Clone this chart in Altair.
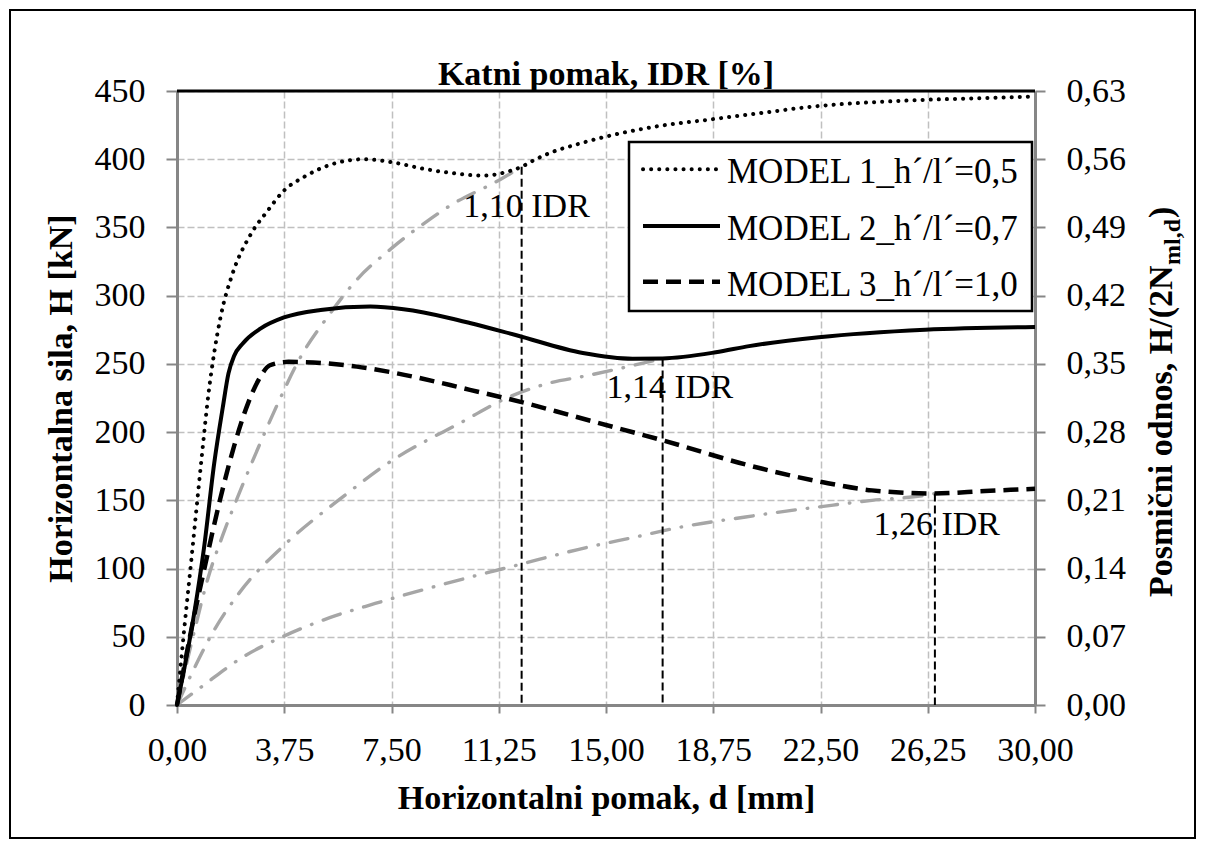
import altair as alt
import pandas as pd

# ---------------- data ----------------
m1_d = [0, 0.25, 0.49, 0.72, 0.9, 1.1, 1.3, 1.53, 1.94, 2.58, 3.16, 3.74, 4.44, 5.37, 6.53, 7.46,
        8.62, 9.55, 10.71, 11.58, 12.05, 12.5, 13.03, 14.0, 14.89, 16.75, 18.6, 20.0, 22.44, 25.2,
        28.48, 30.0]
m1_h = [0, 55, 104, 152, 189, 228, 258, 285, 316, 345, 362, 377, 387, 396, 400, 398,
        393, 390, 388, 391, 394.5, 399.5, 404.5, 411, 416, 424, 429, 432.7, 439, 442.7,
        445, 446]

m2_d = [0, 0.6, 0.95, 1.3, 1.6, 1.8, 2.0, 2.3, 2.93, 3.74, 5.02, 6.76, 7.92, 9.55, 10.24,
        11.87, 14.19, 15.93, 16.98, 18.84, 20.0, 22.44, 26.16, 30.0]
m2_h = [0, 67, 116, 177, 218, 243, 256, 265, 276, 284, 289.5, 292, 290, 283.5, 280,
        271, 258, 253.8, 254, 258.5, 263, 269.5, 275, 277]

m3_d = [0, 0.5, 1.0, 1.5, 2.0, 2.5, 2.9, 3.25, 3.9, 5.13, 6.29, 7.46, 9.55, 10.24,
        12.05, 13.73, 15.3, 16.98, 20.0, 22.55, 24.3, 26.45, 28.25, 30.0]
m3_h = [0, 55, 104, 150, 190, 222, 240, 249, 251.5, 250.5, 248, 244, 234.5, 231,
        222, 212.5, 203.5, 194, 175.6, 163.4, 157.3, 155, 156.8, 158.5]

gA_d = [0, 0.64, 1.07, 1.61, 2.23, 2.87, 3.57, 4.32, 5.25, 6.3, 7.52, 8.91, 9.55, 11.29, 12.05]
gA_h = [0, 57, 92, 125, 158, 190, 223, 255, 284, 312, 335, 357, 366, 385, 394.5]

gB_d = [0, 0.49, 1.22, 2.17, 3.74, 5.89, 7.22, 10.19, 11.23, 13.03, 14.25, 16.98]
gB_h = [0, 22, 52, 82, 117, 154, 175, 210, 222, 236, 241, 254]

gC_d = [0, 0.9, 2.26, 3.74, 5.34, 6.93, 10.19, 11.87, 14.31, 16.0, 17.62, 19.88, 20.99, 22.6,
        24.3, 26.16, 26.5]
gC_h = [0, 14, 34.6, 50.5, 64, 74.4, 93.4, 102.4, 115.4, 123, 130.4, 137.8, 141.2, 145.6,
        150, 153.7, 155]

drift_d = [12.05, 16.98, 26.5]
drift_h = [394.5, 254, 155]
drift_text = ["1,10 IDR", "1,14 IDR", "1,26 IDR"]
drift_text_d = [10.01, 15.02, 24.35]
drift_text_h = [357.7, 225, 124.6]

x_ticks = [0, 3.75, 7.5, 11.25, 15, 18.75, 22.5, 26.25, 30]
y_ticks = [0, 50, 100, 150, 200, 250, 300, 350, 400, 450]
ratio_ticks = [0.0, 0.07, 0.14, 0.21, 0.28, 0.35, 0.42, 0.49, 0.56, 0.63]

legend_labels = ["MODEL 1_h´/l´=0,5", "MODEL 2_h´/l´=0,7", "MODEL 3_h´/l´=1,0"]
title_top = "Katni pomak, IDR [%]"
title_x = "Horizontalni pomak, d [mm]"
title_y = "Horizontalna sila, H [kN]"
title_r_main = "Posmični odnos, H/(2N"
title_r_sub = "ml,d"
title_r_end = ")"

# ---------------- styling ----------------
FONT = "Liberation Serif"
FS = 34
AXIS_GRAY = "#868686"
GRID_GRAY = "#C0C0C0"
LINE_GRAY = "#A6A6A6"
W, H = 858, 614

xs = alt.Scale(domain=[0, 30], nice=False, zero=False)
ys = alt.Scale(domain=[0, 450], nice=False, zero=False)

x_axis = alt.Axis(values=x_ticks, title=title_x, grid=True, gridDash=[7, 3], gridColor=GRID_GRAY,
                  gridWidth=1.5, labelExpr="replace(format(datum.value, '.2f'), '.', ',')",
                  labelFontSize=FS, labelFont=FONT, labelColor="black", labelPadding=20,
                  tickSize=8, tickColor=AXIS_GRAY, tickWidth=2, domainColor=AXIS_GRAY,
                  domainWidth=3, titleFont=FONT, titleFontSize=FS, titleFontWeight="bold",
                  titleColor="black", titlePadding=14, labelOverlap=False, labelFlush=False)
y_axis = alt.Axis(values=y_ticks, title=title_y, grid=True, gridDash=[7, 3], gridColor=GRID_GRAY,
                  gridWidth=1.5, format="d", labelFontSize=FS, labelFont=FONT, labelColor="black",
                  labelPadding=21, tickSize=11, tickColor=AXIS_GRAY, tickWidth=2,
                  domainColor=AXIS_GRAY, domainWidth=3, titleFont=FONT, titleFontSize=FS,
                  titleFontWeight="bold", titleColor="black", titlePadding=16,
                  labelOverlap=False, labelFlush=False)

X = alt.X("d:Q", scale=xs, axis=x_axis)
Y = alt.Y("h:Q", scale=ys, axis=y_axis)

one = alt.Data(values=[{}])


def curve(d, h, **style):
    df = pd.DataFrame({"d": d, "h": h})
    return alt.Chart(df).mark_line(interpolate="monotone", **style).encode(x=X, y=Y)


frame = alt.Chart(one).mark_rect(fillOpacity=0, stroke="black", strokeWidth=2).encode(
    x=alt.value(-167), x2=alt.value(1018), y=alt.value(-81), y2=alt.value(747))

gray_style = dict(color=LINE_GRAY, strokeWidth=3.4, strokeDash=[18, 12, 0.5, 12], strokeCap="round")
gA = curve(gA_d, gA_h, **gray_style)
gB = curve(gB_d, gB_h, **gray_style)
gC = curve(gC_d, gC_h, **gray_style)

drift_df = pd.DataFrame({"d": drift_d, "h": drift_h})
drift_rules = alt.Chart(drift_df).mark_rule(color="black", strokeWidth=2, strokeDash=[8, 4]).encode(
    x=X, y=Y, y2=alt.datum(0))

DOT = dict(strokeDash=[0.1, 8], strokeCap="round", strokeWidth=4)
m1 = curve(m1_d, m1_h, color="black", **DOT)
m2 = curve(m2_d, m2_h, color="black", strokeWidth=4)
m3 = curve(m3_d, m3_h, color="black", strokeWidth=4.5, strokeDash=[15, 8])

top_line = alt.Chart(one).mark_rule(color="black", strokeWidth=3).encode(y=alt.datum(450))

lab_df = pd.DataFrame({"d": drift_text_d, "h": drift_text_h, "t": drift_text})
labels = alt.Chart(lab_df).mark_text(align="left", baseline="alphabetic", font=FONT, fontSize=FS,
                                     color="black").encode(x=X, y=Y, text="t:N")

# legend (drawn as decoration)
leg_box = alt.Chart(one).mark_rect(fill="white", stroke="black", strokeWidth=2.5).encode(
    x=alt.value(452), x2=alt.value(855), y=alt.value(51), y2=alt.value(220))
leg_rows_y = [78.3, 135, 190.7]
leg_styles = [DOT, dict(strokeWidth=4), dict(strokeDash=[15, 8], strokeWidth=4.5)]
leg_layers = [leg_box]
for ry, st, txt in zip(leg_rows_y, leg_styles, legend_labels):
    leg_layers.append(alt.Chart(one).mark_rule(color="black", **st).encode(
        x=alt.value(466), x2=alt.value(543), y=alt.value(ry)))
    leg_layers.append(alt.Chart(one).mark_text(text=txt, align="left", baseline="alphabetic",
                                               font=FONT, fontSize=35, color="black").encode(
        x=alt.value(550), y=alt.value(ry + 14)))

top_title = alt.Chart(one).mark_text(text=title_top, align="center", baseline="alphabetic",
                                     font=FONT, fontSize=FS, fontWeight="bold", color="black").encode(
    x=alt.value(W / 2), y=alt.value(-6))

r_main = alt.Chart(one).mark_text(text=title_r_main, angle=270, align="left", baseline="alphabetic",
                                  font=FONT, fontSize=FS, fontWeight="bold", color="black").encode(
    x=alt.value(995), y=alt.value(506))
r_sub = alt.Chart(one).mark_text(text=title_r_sub, angle=270, align="left", baseline="alphabetic",
                                 font=FONT, fontSize=24, fontWeight="bold", color="black").encode(
    x=alt.value(1003), y=alt.value(506 - 332))
r_end = alt.Chart(one).mark_text(text=title_r_end, angle=270, align="left", baseline="alphabetic",
                                 font=FONT, fontSize=FS, fontWeight="bold", color="black").encode(
    x=alt.value(995), y=alt.value(506 - 332 - 47))

main = alt.layer(frame, gA, gB, gC, drift_rules, m1, m2, m3, top_line, labels, *leg_layers,
                 top_title, r_main, r_sub, r_end)

ratio_df = pd.DataFrame({"r": ratio_ticks})
right = alt.Chart(ratio_df).mark_point(opacity=0).encode(
    y=alt.Y("r:Q", scale=alt.Scale(domain=[0, 0.63], nice=False, zero=True),
            axis=alt.Axis(orient="right", values=ratio_ticks, title=None, grid=False,
                          labelExpr="replace(format(datum.value, '.2f'), '.', ',')",
                          labelFontSize=FS, labelFont=FONT, labelColor="black", labelPadding=21,
                          tickSize=10, tickColor=AXIS_GRAY, tickWidth=2, domainColor=AXIS_GRAY,
                          domainWidth=3, labelOverlap=False, labelFlush=False)))

chart = alt.layer(main, right).resolve_scale(y="independent").properties(
    width=W, height=H,
    autosize=alt.AutoSizeParams(type="none"),
    padding={"left": 169, "top": 83, "right": 162, "bottom": 134},
    background="white",
).configure_view(stroke=None)

chart.save("out.html", embed_options={"renderer": "svg", "actions": False})
